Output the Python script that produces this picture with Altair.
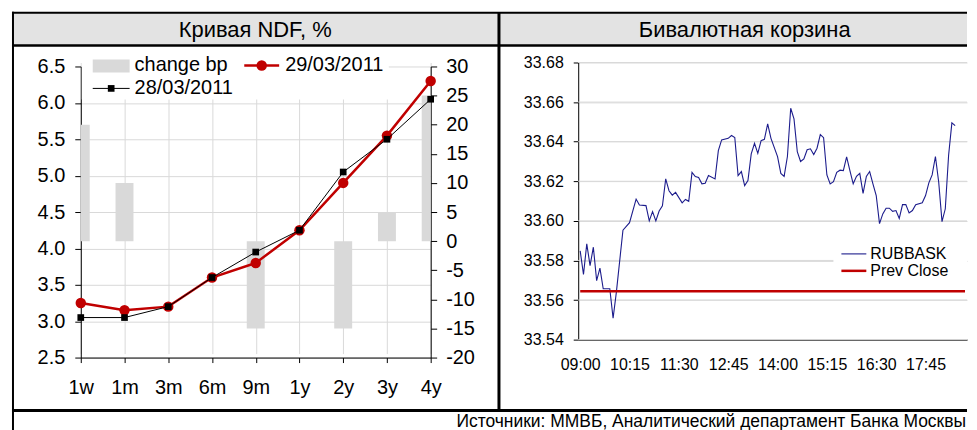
import altair as alt
import pandas as pd

FONT = "Liberation Sans, Arial, Helvetica, sans-serif"

# ---------------- data: NDF curve ----------------
tenors = ["1w", "1m", "3m", "6m", "9m", "1y", "2y", "3y", "4y"]
ndf_2903 = [3.25, 3.15, 3.20, 3.60, 3.80, 4.25, 4.90, 5.55, 6.30]
ndf_2803 = [3.05, 3.05, 3.20, 3.60, 3.95, 4.25, 5.05, 5.50, 6.05]
change_bp = [20, 10, 0, 0, -15, 0, -15, 5, 25]
left_ticks = [2.5, 3.0, 3.5, 4.0, 4.5, 5.0, 5.5, 6.0, 6.5]
bp_ticks = [-20, -15, -10, -5, 0, 5, 10, 15, 20, 25, 30]

# ---------------- data: bi-currency basket ----------------
basket_times = [
    "09:00", "09:05", "09:10", "09:15", "09:20", "09:25", "09:30", "09:35", "09:45", "09:50",
    "09:55", "10:05", "10:15", "10:25", "10:30", "10:40", "10:45", "10:50", "10:55", "11:00",
    "11:05", "11:10", "11:15", "11:20", "11:25", "11:35", "11:40", "11:45", "11:50", "11:55",
    "12:00", "12:05", "12:10", "12:15", "12:25", "12:30", "12:35", "12:45", "12:50", "12:55",
    "13:00", "13:05", "13:10", "13:15", "13:20", "13:25", "13:30", "13:35", "13:40", "13:45",
    "13:50", "14:00", "14:05", "14:10", "14:15", "14:20", "14:25", "14:30", "14:35", "14:40",
    "14:45", "14:50", "14:55", "15:00", "15:05", "15:10", "15:15", "15:20", "15:25", "15:30",
    "15:35", "15:40", "15:45", "15:50", "15:55", "16:00", "16:05", "16:10", "16:15", "16:20",
    "16:25", "16:30", "16:35", "16:40", "16:45", "16:50", "16:55", "17:00", "17:05", "17:10",
    "17:15", "17:20", "17:25", "17:30", "17:40", "17:45", "17:50", "17:55", "18:00", "18:05",
    "18:10", "18:15", "18:20", "18:25", "18:30",
]
basket_values = [
    33.5848, 33.5729, 33.5884, 33.5774, 33.5867, 33.5698, 33.5761, 33.5657, 33.5657, 33.5508,
    33.5640, 33.5953, 33.5991, 33.6110, 33.6080, 33.6077, 33.6000, 33.6047, 33.6000, 33.6050,
    33.6076, 33.6212, 33.6152, 33.6130, 33.6144, 33.6091, 33.6108, 33.6099, 33.6245, 33.6224,
    33.6219, 33.6187, 33.6190, 33.6229, 33.6212, 33.6355, 33.6409, 33.6417, 33.6431, 33.6421,
    33.6229, 33.6249, 33.6178, 33.6204, 33.6338, 33.6392, 33.6341, 33.6405, 33.6412, 33.6490,
    33.6417, 33.6325, 33.6240, 33.6225, 33.6325, 33.6569, 33.6515, 33.6350, 33.6300, 33.6313,
    33.6359, 33.6364, 33.6335, 33.6367, 33.6436, 33.6420, 33.6232, 33.6187, 33.6198, 33.6245,
    33.6256, 33.6254, 33.6323, 33.6254, 33.6187, 33.6225, 33.6240, 33.6139, 33.6224, 33.6249,
    33.6187, 33.6128, 33.5986, 33.6035, 33.6064, 33.6064, 33.6048, 33.6052, 33.6012, 33.6082,
    33.6082, 33.6040, 33.6052, 33.6082, 33.6091, 33.6128, 33.6192, 33.6232, 33.6325, 33.6195,
    33.5996, 33.6061, 33.6330, 33.6495, 33.6481,
]
prev_close = [33.5645]
basket_ticks = [33.54, 33.56, 33.58, 33.60, 33.62, 33.64, 33.66, 33.68]
time_ticks = ["09:00", "10:15", "11:30", "12:45", "14:00", "15:15", "16:30", "17:45"]

titles = ["Кривая NDF, %", "Бивалютная корзина"]
footer_text = "Источники: ММВБ, Аналитический департамент Банка Москвы"


def to_min(s):
    h, m = s.split(":")
    return int(h) * 60 + int(m)


ndf_df = pd.DataFrame({"tenor": tenors, "d29": ndf_2903, "d28": ndf_2803, "bp": change_bp})
basket_df = pd.DataFrame({"t": [to_min(s) for s in basket_times], "v": basket_values})
prev_df = pd.DataFrame({"v": prev_close})
grid_df = pd.DataFrame({"v": basket_ticks})

one = pd.DataFrame({"k": [0]})


def hrule(x1, x2, y, w, color="black"):
    return alt.Chart(one).mark_rule(color=color, strokeWidth=w).encode(
        x=alt.value(x1), x2=alt.value(x2), y=alt.value(y))


def vrule(x, y1, y2, w, color="black"):
    return alt.Chart(one).mark_rule(color=color, strokeWidth=w).encode(
        x=alt.value(x), y=alt.value(y1), y2=alt.value(y2))


def box(x1, x2, y1, y2, color):
    return alt.Chart(one).mark_rect(color=color).encode(
        x=alt.value(x1), x2=alt.value(x2), y=alt.value(y1), y2=alt.value(y2))


def label(x, y, txt, size, align="left", baseline="middle"):
    return alt.Chart(one).mark_text(text=txt, align=align, baseline=baseline,
                                    fontSize=size, font=FONT, color="black").encode(
        x=alt.value(x), y=alt.value(y))


# ---------------- left panel ----------------
LW, LH = 351, 296
RED = "#c00000"
GRID = "#d9d9d9"
LFS = 20

x_ten = alt.X("tenor:N", sort=tenors, title=None,
              scale=alt.Scale(type="point", padding=0),
              axis=alt.Axis(labelAngle=0, labelFont=FONT, labelFontSize=LFS, labelColor="black",
                            labelPadding=15, tickSize=5, tickColor="black", domainColor="black",
                            grid=True, gridColor=GRID))

y_left_axis = alt.Axis(orient="left", values=left_ticks, format=".1f", labelFont=FONT,
                       labelFontSize=LFS, labelColor="black", labelPadding=10, tickSize=6,
                       tickColor="black", domainColor="black", grid=True, gridColor=GRID,
                       labelOverlap=False)
y_left_scale = alt.Scale(domain=[2.5, 6.5], range=[LH, 4], nice=False, zero=False)

bars = alt.Chart(ndf_df).mark_bar(size=18, clip=True, color="#d9d9d9").encode(
    x=x_ten,
    y=alt.Y("bp:Q", title=None,
            scale=alt.Scale(domain=[-20, 30], range=[LH, 4], nice=False),
            axis=alt.Axis(orient="right", values=bp_ticks, labelExpr="'' + datum.value",
                          labelFont=FONT, labelFontSize=LFS, labelColor="black",
                          labelPadding=9, tickSize=6, tickColor="black",
                          domainColor="black", grid=False, labelOverlap=False)))

red_line = alt.Chart(ndf_df).mark_line(color=RED, strokeWidth=2.5).encode(
    x=x_ten, y=alt.Y("d29:Q", title=None, scale=y_left_scale, axis=y_left_axis))
red_pts = alt.Chart(ndf_df).mark_circle(color=RED, size=110, opacity=1).encode(
    x=x_ten, y=alt.Y("d29:Q", title=None, scale=y_left_scale, axis=y_left_axis))
blk_line = alt.Chart(ndf_df).mark_line(color="black", strokeWidth=1).encode(
    x=x_ten, y=alt.Y("d28:Q", title=None, scale=y_left_scale, axis=y_left_axis))
blk_pts = alt.Chart(ndf_df).mark_point(shape="square", filled=True, color="black", size=45,
                                       opacity=1).encode(
    x=x_ten, y=alt.Y("d28:Q", title=None, scale=y_left_scale, axis=y_left_axis))

lines = alt.layer(red_line, red_pts, blk_line, blk_pts)

legend_left = [
    box(1, 309, -11, 37, "white"),
]
legend_left_items = [
    box(12, 49, -3, 10, "#d9d9d9"),
    label(54, 3, "change bp", LFS),
    hrule(164, 199, 3, 2.5, RED),
    alt.Chart(one).mark_circle(color=RED, size=110, opacity=1).encode(
        x=alt.value(181.5), y=alt.value(3)),
    label(205, 3, "29/03/2011", LFS),
    hrule(12, 49, 26, 1),
    alt.Chart(one).mark_point(shape="square", filled=True, color="black", size=45,
                              opacity=1).encode(x=alt.value(30.5), y=alt.value(26)),
    label(54, 26, "28/03/2011", LFS),
]

# frame (relative to left plot origin at abs (79, 61))
RIGHT_END = 889
frame = [
    box(-68, RIGHT_END, -50, -17, "#e3e3e3"),
    hrule(-69, RIGHT_END, -50, 2),
    hrule(-69, RIGHT_END, -17, 2.5),
    vrule(-68, -51, 372, 2),
    vrule(419.5, -50, 349, 3),
    hrule(-69, RIGHT_END, 349, 3),
    label(175, -33, titles[0], 22, align="center"),
    label(666, -33, titles[1], 22, align="center"),
    label(RIGHT_END - 1, 366, footer_text, 17.5, align="right", baseline="alphabetic"),
]

left = alt.layer(*legend_left, bars, lines, *legend_left_items, *frame).resolve_scale(
    y="independent").properties(width=LW, height=LH)

# ---------------- right panel ----------------
RW, RH = 390, 278
NAVY = "#1c1c8c"

x_time = alt.X("t:Q", title=None, scale=alt.Scale(domain=[537, 1128], nice=False, zero=False),
               axis=alt.Axis(values=[to_min(s) for s in time_ticks],
                             labelExpr="format(floor(datum.value / 60), '02d') + ':' + format(datum.value % 60, '02d')",
                             labelFont=FONT, labelFontSize=16, labelColor="black",
                             labelPadding=17, ticks=False, domainColor="black", grid=False,
                             labelFlush=False, labelOverlap=False))
y_basket = alt.Y("v:Q", title=None,
                 scale=alt.Scale(domain=[33.54, 33.68], nice=False, zero=False),
                 axis=alt.Axis(values=basket_ticks, format=".2f", labelFont=FONT, labelFontSize=16,
                               labelColor="black", labelPadding=10, tickSize=5,
                               tickColor="black", domainColor="black", grid=True,
                               gridColor=GRID, labelOverlap=False, labelFlush=False))

grid_rules = alt.Chart(grid_df).mark_rule(color=GRID, strokeWidth=1).encode(
    y=y_basket, x=alt.value(0), x2=alt.value(RW))
basket_line = alt.Chart(basket_df).mark_line(color=NAVY, strokeWidth=1.1).encode(
    x=x_time, y=y_basket)
prev_rule = alt.Chart(prev_df).mark_rule(color=RED, strokeWidth=2.5).encode(
    y=y_basket, x=alt.value(2), x2=alt.value(388))

right = alt.layer(
    grid_rules,
    box(256, 390, 179, 224, "white"),
    basket_line,
    prev_rule,
    hrule(264, 289, 192, 1.1, NAVY),
    hrule(264, 289, 209, 2.5, RED),
    label(293, 192, "RUBBASK", 16),
    label(293, 209, "Prev Close", 16),
).properties(width=RW, height=RH)

chart = alt.hconcat(left, right, spacing=148, bounds="flush").properties(
    padding={"left": 2, "top": 2, "right": 0, "bottom": 0}
).configure_view(stroke=None)

chart.save("out.html", embed_options={"renderer": "svg", "actions": False})
